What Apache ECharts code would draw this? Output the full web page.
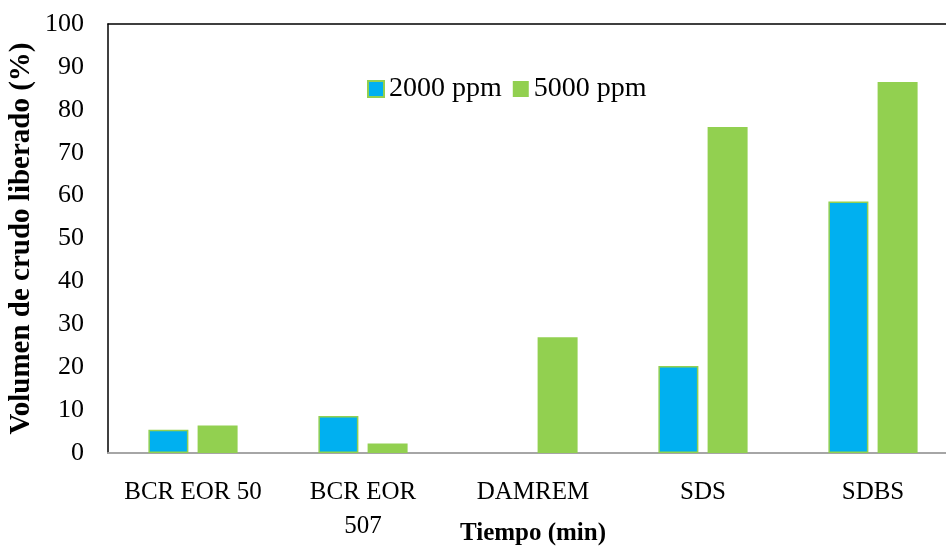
<!DOCTYPE html>
<html>
<head>
<meta charset="utf-8">
<script src="https://cdn.jsdelivr.net/npm/echarts@6/dist/echarts.min.js"></script>
<style>html,body{margin:0;padding:0;background:#fff}#c{width:946px;height:550px}</style>
</head>
<body>
<div id="c"></div>
<script>
const categories = ['BCR EOR 50', 'BCR EOR\n507', 'DAMREM', 'SDS', 'SDBS'];
const seriesNames = ['2000 ppm', '5000 ppm'];
const values2000 = [5.4, 8.6, 0, 20.3, 58.6];
const values5000 = [6.4, 2.2, 27.0, 76.0, 86.5];
const yTicks = [0, 10, 20, 30, 40, 50, 60, 70, 80, 90, 100];

const font = 'Liberation Serif, Times New Roman, serif';
const chart = echarts.init(document.getElementById('c'));
chart.setOption({
  animation: false,
  backgroundColor: '#fff',
  textStyle: { fontFamily: font },
  grid: { left: 108, top: 24, width: 850, bottom: 97, containLabel: false, outerBoundsMode: 'none' },
  legend: {
    left: 362, top: 70,
    itemWidth: 16, itemHeight: 16, itemGap: 11,
    icon: 'rect',
    textStyle: { fontFamily: font, fontSize: 28, color: '#000', padding: [0, 0, 0, 0] },
    data: seriesNames
  },
  xAxis: [{
    type: 'category',
    data: categories,
    axisLine: { lineStyle: { color: '#A6A6A6', width: 2 } },
    axisTick: { show: false },
    axisLabel: { fontFamily: font, fontSize: 25, color: '#000', margin: 22, lineHeight: 34, interval: 0 },
    name: 'Tiempo (min)',
    nameLocation: 'middle',
    nameGap: 68,
    nameMoveOverlap: false,
    nameTextStyle: { fontFamily: font, fontSize: 25, fontWeight: 'bold', color: '#000' }
  }, {
    type: 'category',
    position: 'top',
    data: categories,
    axisLine: { lineStyle: { color: '#000', width: 1.5 } },
    axisTick: { show: false },
    axisLabel: { show: false }
  }],
  yAxis: {
    type: 'value',
    min: yTicks[0], max: yTicks[yTicks.length - 1], interval: 10,
    axisLine: { show: true, lineStyle: { color: '#000', width: 1.5 } },
    axisTick: { show: false },
    splitLine: { show: false },
    axisLabel: { fontFamily: font, fontSize: 26, color: '#000', margin: 24 },
    name: 'Volumen de crudo liberado (%)',
    nameLocation: 'middle',
    nameGap: 72,
    nameMoveOverlap: false,
    nameTextStyle: { fontFamily: font, fontSize: 29, fontWeight: 'bold', color: '#000' }
  },
  series: [{
    name: seriesNames[0],
    type: 'bar',
    data: values2000.map(v => v === 0 ? { value: v, itemStyle: { borderWidth: 0 } } : v),
    barWidth: 40,
    barGap: '23%',
    itemStyle: { color: '#00B0F0', borderColor: '#92D050', borderWidth: 1.5 }
  }, {
    name: seriesNames[1],
    type: 'bar',
    data: values5000,
    barWidth: 40,
    itemStyle: { color: '#92D050' }
  }]
});
</script>
</body>
</html>
